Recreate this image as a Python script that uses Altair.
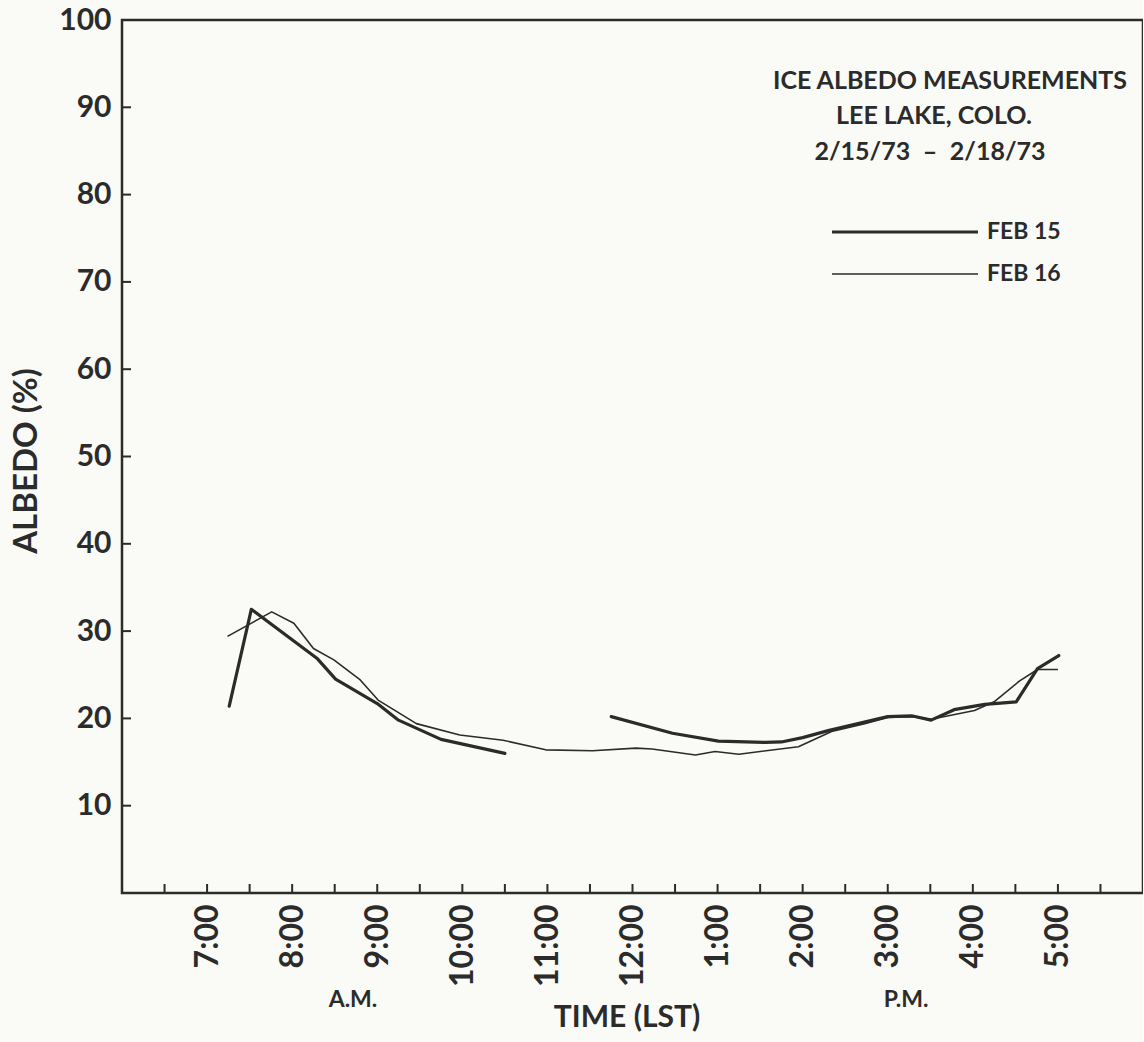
import altair as alt
import pandas as pd

# ---- data (hours in local standard time, albedo in %) ----
feb15_am_t = [7.26, 7.52, 8.29, 8.51, 9.00, 9.25, 9.75, 10.50]
feb15_am_v = [21.4, 32.5, 26.9, 24.5, 21.7, 19.8, 17.6, 16.0]
feb15_pm_t = [11.75, 12.47, 13.01, 13.56, 13.75, 14.00, 14.30, 15.00, 15.28, 15.51, 15.78, 16.14, 16.51, 16.76, 17.01]
feb15_pm_v = [20.2, 18.3, 17.4, 17.25, 17.3, 17.8, 18.6, 20.2, 20.3, 19.8, 21.0, 21.6, 21.9, 25.7, 27.2]
feb16_t = [7.24, 7.76, 8.02, 8.25, 8.49, 8.80, 9.01, 9.46, 9.97, 10.48, 10.98, 11.53, 12.04, 12.23,
           12.74, 12.97, 13.25, 13.95, 14.34, 14.73, 15.00, 15.28, 15.51, 16.02, 16.25, 16.55, 16.76, 17.00]
feb16_v = [29.4, 32.2, 30.9, 28.0, 26.7, 24.4, 22.1, 19.4, 18.1, 17.5, 16.4, 16.3, 16.6, 16.5,
           15.8, 16.2, 15.9, 16.75, 18.5, 19.4, 20.1, 20.2, 19.9, 20.9, 21.9, 24.3, 25.6, 25.6]

hour_ticks = [7, 8, 9, 10, 11, 12, 13, 14, 15, 16, 17]
hour_labels = ["7:00", "8:00", "9:00", "10:00", "11:00", "12:00", "1:00", "2:00", "3:00", "4:00", "5:00"]
minor_ticks = [6.5 + 0.5 * i for i in range(23)]
albedo_ticks = [10, 20, 30, 40, 50, 60, 70, 80, 90, 100]

title_lines = ["ICE ALBEDO MEASUREMENTS", "LEE LAKE, COLO.", "2/15/73\u2002\u2013\u20022/18/73"]
series_names = ["FEB 15", "FEB 16"]

FONT = "Lato"
INK = "#2b2b2b"
W, H = 1021, 873

rows = []
for t, v in zip(feb15_am_t, feb15_am_v):
    rows.append({"t": t, "v": v, "series": "FEB 15", "seg": "am"})
for t, v in zip(feb15_pm_t, feb15_pm_v):
    rows.append({"t": t, "v": v, "series": "FEB 15", "seg": "pm"})
for t, v in zip(feb16_t, feb16_v):
    rows.append({"t": t, "v": v, "series": "FEB 16", "seg": "all"})
df = pd.DataFrame(rows)

label_expr = "[" + ",".join("'" + s + "'" for s in hour_labels) + "][datum.value - 7]"

xscale = alt.Scale(domain=[6, 18], nice=False, zero=False)
yscale = alt.Scale(domain=[0, 100], nice=False)

xaxis = alt.Axis(values=hour_ticks, labelExpr=label_expr, labelAngle=-90, labelAlign="right",
                 labelBaseline="middle", labelPadding=11, labelFont=FONT, labelFontSize=32,
                 labelFontWeight="bold", labelColor=INK, domain=False, ticks=False, grid=False,
                 title=None)
yaxis = alt.Axis(values=albedo_ticks, labelPadding=11, labelFont=FONT, labelFontSize=30,
                 labelFontWeight="bold", labelColor=INK, domain=False, ticks=False, grid=False,
                 title=None)

base = alt.Chart(df)
line15 = base.transform_filter("datum.series == 'FEB 15'").mark_line(
    color=INK, strokeWidth=3.2, strokeJoin="round", strokeCap="round"
).encode(
    x=alt.X("t:Q", scale=xscale, axis=xaxis),
    y=alt.Y("v:Q", scale=yscale, axis=yaxis),
    detail="seg:N",
    order="t:Q",
)
line16 = base.transform_filter("datum.series == 'FEB 16'").mark_line(
    color=INK, strokeWidth=1.6, strokeJoin="round"
).encode(
    x=alt.X("t:Q", scale=xscale),
    y=alt.Y("v:Q", scale=yscale),
    order="t:Q",
)

yt = alt.Chart(pd.DataFrame({"v": albedo_ticks[:-1]})).mark_rule(color=INK, strokeWidth=2).encode(
    y=alt.Y("v:Q", scale=yscale), x=alt.value(0), x2=alt.value(9))
xt = alt.Chart(pd.DataFrame({"t": minor_ticks})).mark_rule(color=INK, strokeWidth=2).encode(
    x=alt.X("t:Q", scale=xscale), y=alt.value(H), y2=alt.value(H - 9))


def label(txt, x, y, size, angle=0, weight="bold", align="center"):
    return alt.Chart(pd.DataFrame({"text": [txt]})).mark_text(
        font=FONT, fontSize=size, fontWeight=weight, color=INK, align=align,
        baseline="middle", angle=angle).encode(x=alt.value(x), y=alt.value(y), text="text:N")


t1 = label(title_lines[0], 828, 61, 25)
t2 = label(title_lines[1], 812, 96, 25)
t3 = label(title_lines[2], 808, 132, 25)

leg_df = pd.DataFrame({"name": series_names, "y": [212, 254], "sw": [3.2, 1.6]})
leg_lines = alt.Chart(leg_df).mark_rule(color=INK).encode(
    x=alt.value(710), x2=alt.value(856), y=alt.Y("y:Q", scale=None),
    strokeWidth=alt.StrokeWidth("sw:Q", scale=None))
leg_text = alt.Chart(leg_df).mark_text(font=FONT, fontSize=23, fontWeight="bold", color=INK,
                                        align="left", baseline="middle").encode(
    x=alt.value(865), y=alt.Y("y:Q", scale=None), text="name:N")

am = label("A.M.", 231, 980, 23)
pm = label("P.M.", 784, 980, 23)
xtitle = label("TIME (LST)", 505, 998, 30)
ytitle = label("ALBEDO (%)", -95, 441, 33, angle=270)

chart = alt.layer(
    line16, line15, yt, xt, t1, t2, t3, leg_lines, leg_text, am, pm, xtitle, ytitle
).properties(
    width=W, height=H,
    padding={"left": 122, "top": 20, "right": 0, "bottom": 149},
    autosize=alt.AutoSizeParams(type="none"),
    background="#fafaf6",
).configure_view(stroke=INK, strokeWidth=2.5)

chart.save("out.html", embed_options={"renderer": "svg", "actions": False})
